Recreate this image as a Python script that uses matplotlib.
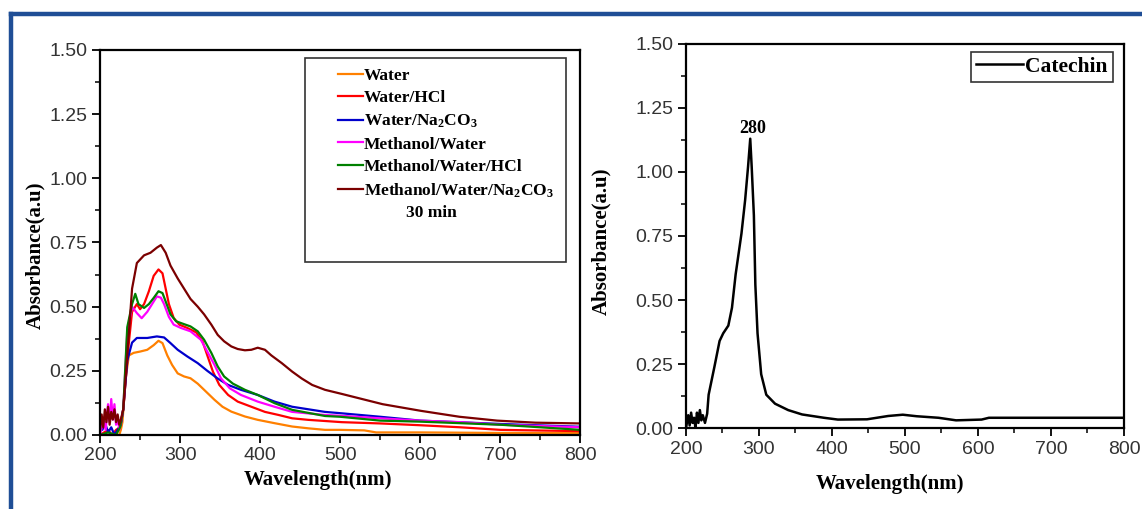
import numpy as np
import matplotlib
matplotlib.use("Agg")
import matplotlib.pyplot as plt
from matplotlib.lines import Line2D
from matplotlib.patches import Rectangle
from matplotlib.ticker import MultipleLocator, FormatStrFormatter

plt.rcParams['font.family'] = ['Liberation Sans', 'DejaVu Sans']
plt.rcParams['mathtext.fontset'] = 'custom'
plt.rcParams['mathtext.rm'] = 'Liberation Serif:bold'
plt.rcParams['mathtext.it'] = 'Liberation Serif:bold'
plt.rcParams['mathtext.bf'] = 'Liberation Serif:bold'

# ---- left panel: extracts, 30 min ----
water_x = [200, 224, 226, 228, 232, 236, 242, 250, 259, 267, 273, 278, 284, 290, 297, 305, 313,
           322, 332, 343, 353, 364, 381, 397, 418, 440, 460, 481, 500, 530, 545, 600, 700, 800]
water_y = [0.0, 0.0, 0.02, 0.05, 0.22, 0.31, 0.32, 0.325, 0.332, 0.35, 0.367, 0.358, 0.31, 0.273, 0.24,
           0.228, 0.221, 0.20, 0.17, 0.137, 0.11, 0.091, 0.072, 0.059, 0.046, 0.033, 0.026, 0.02, 0.02,
           0.018, 0.01, 0.01, 0.008, 0.008]

hcl_x = [200, 210, 215, 220, 225, 229, 236, 240, 246, 250, 255, 261, 267, 273, 278, 282, 286, 292,
         299, 309, 320, 328, 334, 341, 349, 360, 372, 389, 406, 423, 440, 460, 502, 550, 600, 650, 700, 800]
hcl_y = [0.0, 0.02, 0.0, 0.02, 0.03, 0.10, 0.36, 0.48, 0.51, 0.49, 0.51, 0.56, 0.62, 0.645, 0.63, 0.57,
         0.51, 0.456, 0.43, 0.417, 0.40, 0.365, 0.31, 0.247, 0.195, 0.156, 0.13, 0.11, 0.09, 0.078,
         0.065, 0.059, 0.05, 0.045, 0.038, 0.03, 0.02, 0.015]

na_x = [200, 203, 206, 210, 214, 218, 222, 226, 229, 234, 240, 246, 259, 271, 280, 288, 297, 309,
        322, 334, 347, 360, 376, 397, 418, 440, 481, 500, 550, 600, 700, 800]
na_y = [0.08, 0.02, 0.05, 0.01, 0.03, 0.0, 0.02, 0.04, 0.10, 0.29, 0.36, 0.378, 0.378, 0.384, 0.38,
        0.358, 0.332, 0.306, 0.28, 0.25, 0.22, 0.195, 0.176, 0.156, 0.13, 0.11, 0.09, 0.085, 0.071,
        0.056, 0.043, 0.032]

mw_x = [200, 204, 207, 210, 212, 214, 216, 218, 220, 222, 224, 226, 229, 234, 240, 246, 252, 259,
        265, 271, 276, 280, 286, 292, 301, 313, 326, 334, 343, 351, 362, 376, 397, 418, 440, 481, 500,
        550, 600, 650, 700, 800]
mw_y = [0.0, 0.06, 0.02, 0.12, 0.05, 0.14, 0.06, 0.12, 0.04, 0.07, 0.02, 0.05, 0.10, 0.40, 0.50, 0.475,
        0.455, 0.48, 0.51, 0.54, 0.535, 0.51, 0.46, 0.43, 0.417, 0.404, 0.371, 0.325, 0.273, 0.221,
        0.182, 0.156, 0.13, 0.11, 0.09, 0.078, 0.075, 0.065, 0.056, 0.05, 0.04, 0.03]

mwh_x = [200, 210, 220, 225, 229, 234, 240, 244, 248, 255, 261, 267, 273, 278, 282, 288, 295, 303,
         313, 322, 330, 339, 347, 355, 366, 381, 397, 418, 440, 481, 500, 550, 600, 700, 800]
mwh_y = [0.0, 0.01, 0.0, 0.03, 0.10, 0.42, 0.51, 0.55, 0.51, 0.495, 0.51, 0.534, 0.56, 0.553, 0.52,
         0.47, 0.443, 0.434, 0.423, 0.404, 0.371, 0.32, 0.267, 0.228, 0.20, 0.176, 0.156, 0.124,
         0.098, 0.074, 0.071, 0.056, 0.052, 0.04, 0.02]

mwn_x = [200, 202, 204, 206, 208, 210, 212, 214, 216, 218, 220, 222, 224, 226, 229, 234, 240, 246,
         255, 263, 271, 276, 282, 288, 297, 305, 313, 322, 330, 339, 347, 355, 364, 372, 381, 389,
         397, 406, 414, 427, 440, 452, 465, 481, 502, 553, 601, 649, 696, 744, 800]
mwn_y = [0.02, 0.08, 0.03, 0.10, 0.05, 0.11, 0.04, 0.09, 0.06, 0.10, 0.05, 0.08, 0.04, 0.06, 0.10,
         0.31, 0.57, 0.67, 0.70, 0.71, 0.73, 0.74, 0.71, 0.66, 0.61, 0.57, 0.53, 0.50, 0.47, 0.43,
         0.39, 0.365, 0.345, 0.335, 0.33, 0.332, 0.34, 0.332, 0.31, 0.28, 0.247, 0.22, 0.195, 0.176,
         0.16, 0.12, 0.094, 0.071, 0.056, 0.048, 0.045]

series_labels = ['Water', 'Water/HCl', 'Water/Na$_2$CO$_3$', 'Methanol/Water',
                 'Methanol/Water/HCl', 'Methanol/Water/Na$_2$CO$_3$']
series_colors = ['#ff8000', '#ff0000', '#0000cc', '#ff00ff', '#008000', '#7b0000']

# ---- right panel: catechin standard ----
cat_x = [200, 203, 205, 207, 209, 211, 213, 215, 217, 219, 221, 223, 226, 229, 231, 239, 246, 251,
         258, 263, 268, 276, 281, 285, 288, 290, 293, 295, 298, 303, 310, 322, 340, 359, 389, 408,
         448, 477, 497, 516, 546, 570, 605, 615, 800]
cat_y = [0.0, 0.05, 0.01, 0.06, 0.02, 0.04, 0.0, 0.06, 0.02, 0.07, 0.03, 0.05, 0.02, 0.056, 0.13,
         0.24, 0.34, 0.37, 0.40, 0.47, 0.60, 0.76, 0.89, 1.02, 1.13, 1.02, 0.83, 0.56, 0.37, 0.21,
         0.13, 0.095, 0.07, 0.053, 0.04, 0.033, 0.034, 0.047, 0.052, 0.046, 0.04, 0.03, 0.033, 0.04,
         0.04]
peak_label = '280'

label_font = dict(family='Liberation Serif', fontweight='bold', fontsize=15, color='black')


def style_axes(ax, xlab_pos, ylab_pos):
    ax.set_xlim(200, 800)
    ax.set_ylim(0, 1.5)
    ax.xaxis.set_major_locator(MultipleLocator(100))
    ax.xaxis.set_minor_locator(MultipleLocator(50))
    ax.yaxis.set_major_locator(MultipleLocator(0.25))
    ax.yaxis.set_minor_locator(MultipleLocator(0.125))
    ax.yaxis.set_major_formatter(FormatStrFormatter('%.2f'))
    ax.tick_params(which='major', direction='out', length=6, width=1.3, labelsize=14,
                   labelcolor='#333333', pad=3)
    ax.tick_params(which='minor', direction='out', length=3.5, width=1.1)
    for s in ax.spines.values():
        s.set_linewidth(1.6)
    ax.set_xlabel('Wavelength(nm)', **label_font)
    ax.set_ylabel('Absorbance(a.u)', **label_font)
    ax.xaxis.set_label_coords(*xlab_pos)
    ax.yaxis.set_label_coords(*ylab_pos)


fig = plt.figure(figsize=(11.42, 5.09), dpi=100)

ax1 = fig.add_axes([0.0876, 0.1454, 0.4206, 0.7564])
xs = [water_x, hcl_x, na_x, mw_x, mwh_x, mwn_x]
ys = [water_y, hcl_y, na_y, mw_y, mwh_y, mwn_y]
for x, y, c, lab in zip(xs, ys, series_colors, series_labels):
    ax1.plot(x, y, color=c, lw=1.6, label=lab)
style_axes(ax1, (0.454, -0.091), (-0.115, 0.468))

ax1.add_patch(Rectangle((0.427, 0.449), 0.544, 0.530, transform=ax1.transAxes,
                        fill=False, edgecolor='#333333', lw=1.2, zorder=5))
ax1.legend(loc='upper left', bbox_to_anchor=(0.47, 0.985), frameon=False,
           prop={'family': 'Liberation Serif', 'weight': 'bold', 'size': 12.5},
           handlelength=1.45, handletextpad=0.05, labelspacing=0.36,
           borderpad=0.2)
ax1.text(0.69, 0.577, '30 min', transform=ax1.transAxes, ha='center', va='center',
         family='Liberation Serif', fontweight='bold', fontsize=12.5)

ax2 = fig.add_axes([0.6007, 0.1591, 0.3835, 0.7545])
ax2.plot(cat_x, cat_y, color='black', lw=1.8, label='Catechin')
style_axes(ax2, (0.466, -0.12), (-0.171, 0.487))
pk = int(np.argmax(cat_y))
ax2.annotate(peak_label, xy=(cat_x[pk], cat_y[pk]), xytext=(2, 1), textcoords='offset points',
             ha='center', va='bottom', family='Liberation Serif', fontweight='bold', fontsize=13)
leg2 = ax2.legend(loc='upper right', bbox_to_anchor=(0.984, 0.99), frameon=True, fancybox=False,
                  edgecolor='#333333', framealpha=1,
                  prop={'family': 'Liberation Serif', 'weight': 'bold', 'size': 15.5},
                  handlelength=2.2, handletextpad=0.1, borderpad=0.22, borderaxespad=0.2)
leg2.get_frame().set_linewidth(1.2)

# blue page frame
frame_col = '#1f4e96'
fig.add_artist(Line2D([0.0096, 1.0], [0.9725, 0.9725], transform=fig.transFigure,
                      color=frame_col, lw=3.2))
fig.add_artist(Line2D([0.0096, 0.0096], [0.0, 0.9725], transform=fig.transFigure,
                      color=frame_col, lw=3.2))

fig.savefig('out.png', dpi=100)
